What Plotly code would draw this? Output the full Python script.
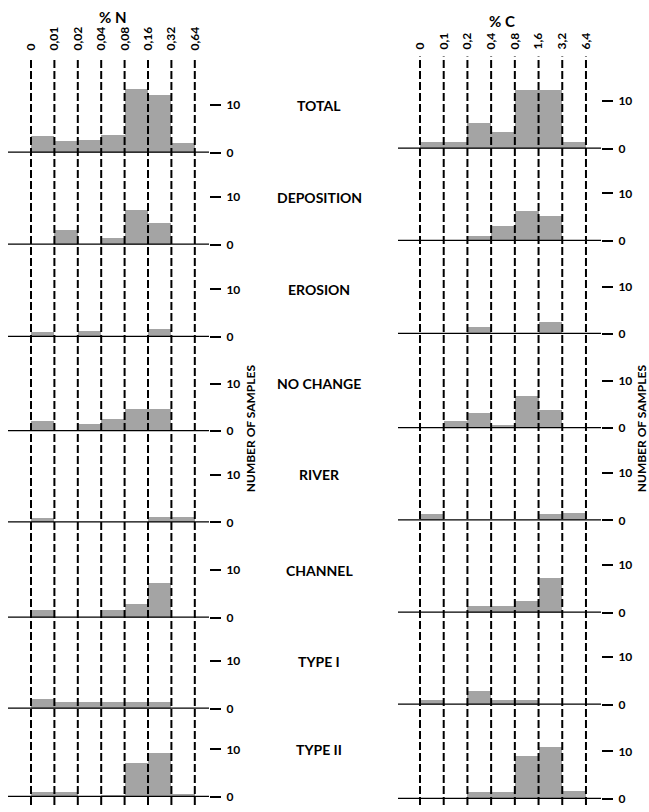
import plotly.graph_objects as go

# ---------------- data ----------------
categories = ["TOTAL", "DEPOSITION", "EROSION", "NO CHANGE", "RIVER", "CHANNEL", "TYPE I", "TYPE II"]

n_edge_labels = ["0", "0,01", "0,02", "0,04", "0,08", "0,16", "0,32", "0,64"]
c_edge_labels = ["0", "0,1", "0,2", "0,4", "0,8", "1,6", "3,2", "6,4"]

# number of samples per class interval (7 intervals between the 8 edges)
n_total      = [3.4, 2.5, 2.7, 3.7, 13.3, 12.1, 2.1]
n_deposition = [0, 3.2, 0, 1.4, 7.4, 4.6, 0]
n_erosion    = [1.1, 0, 1.3, 0, 0, 1.7, 0]
n_nochange   = [2.2, 0, 1.5, 2.6, 4.7, 4.7, 0]
n_river      = [0.9, 0, 0, 0, 0, 1.2, 1.2]
n_channel    = [1.6, 0, 0, 1.6, 2.8, 7.2, 0]
n_type1      = [2.1, 1.5, 1.5, 1.5, 1.5, 1.5, 0]
n_type2      = [1.0, 1.0, 0, 0.5, 7.2, 9.2, 0.7]

c_total      = [1.4, 1.4, 5.4, 3.6, 12.4, 12.4, 1.4]
c_deposition = [0, 0, 1.1, 3.1, 6.2, 5.2, 0]
c_erosion    = [0, 0, 1.4, 0, 0, 2.6, 0]
c_nochange   = [0, 1.5, 3.3, 0.7, 6.7, 3.8, 0]
c_river      = [1.3, 0, 0, 0, 0, 1.4, 1.5]
c_channel    = [0, 0, 1.5, 1.5, 2.5, 7.3, 0]
c_type1      = [1.0, 0, 2.9, 1.0, 1.0, 0, 0]
c_type2      = [0, 0, 1.5, 1.4, 9.0, 11.0, 1.7]

n_series = [n_total, n_deposition, n_erosion, n_nochange, n_river, n_channel, n_type1, n_type2]
c_series = [c_total, c_deposition, c_erosion, c_nochange, c_river, c_channel, c_type1, c_type2]

y_ticks = [0, 10]

# ---------------- layout geometry (pixels) ----------------
W, H = 649, 812
PX_PER_UNIT = 4.8

cols = [
    dict(edge0=31, step=23.4, left=8, right=209, zeros=[154, 247, 340, 435, 527, 623, 715, 804],
         top=58, labels=n_edge_labels, series=n_series, title="% N", tx=113, ty=17, ylab_x=250),
    dict(edge0=420, step=23.71, left=398, right=601, zeros=[150, 243, 337, 432, 525, 618, 711, 806],
         top=57, labels=c_edge_labels, series=c_series, title="% C", tx=502, ty=21, ylab_x=641),
]

FONT = "Lato"
BAR_COLOR = "#a4a4a4"

def fx(px):
    return px / W

def fy(py):
    return 1 - py / H

fig = go.Figure()
layout = dict(
    width=W, height=H, margin=dict(l=0, r=0, t=0, b=0),
    paper_bgcolor="white", plot_bgcolor="rgba(0,0,0,0)",
    showlegend=False, bargap=0,
)
shapes = []
annotations = []

n_edges = len(n_edge_labels)
centers = [i + 0.5 for i in range(n_edges - 1)]

for ci, col in enumerate(cols):
    xr = [(col["left"] - col["edge0"]) / col["step"], (col["right"] - col["edge0"]) / col["step"]]
    for ri in range(len(categories)):
        k = ci * len(categories) + ri + 1
        xa = "x" if k == 1 else f"x{k}"
        ya = "y" if k == 1 else f"y{k}"
        zero = col["zeros"][ri]
        top = col["top"] if ri == 0 else zero - 90
        fig.add_trace(go.Bar(
            x=centers, y=col["series"][ri], width=1.0,
            marker=dict(color=BAR_COLOR, line=dict(width=0)),
            xaxis=xa, yaxis=ya, hoverinfo="skip",
        ))
        xkey = "xaxis" if k == 1 else f"xaxis{k}"
        ykey = "yaxis" if k == 1 else f"yaxis{k}"
        xaxis = dict(domain=[fx(col["left"]), fx(col["right"])], range=xr, anchor=ya,
                     showgrid=False, zeroline=False, showline=False, fixedrange=True)
        if ri == 0:
            xaxis.update(side="top", tickmode="array", tickvals=list(range(n_edges)),
                         ticktext=col["labels"], tickangle=-90, ticks="",
                         ticklabelstandoff=6,
                         tickfont=dict(family=FONT, size=12, color="black", weight="bold"))
        else:
            xaxis.update(showticklabels=False, ticks="")
        layout[xkey] = xaxis
        layout[ykey] = dict(domain=[fy(zero), fy(top)], range=[0, (zero - top) / PX_PER_UNIT],
                            anchor=xa, side="right", showgrid=False, zeroline=False,
                            showline=False, tickmode="array", tickvals=y_ticks,
                            ticktext=[str(v) for v in y_ticks], ticks="outside", ticklen=11,
                            tickwidth=2, tickcolor="black", ticklabelstandoff=3,
                            tickfont=dict(family=FONT, size=12, color="black", weight="bold"),
                            fixedrange=True)
        # baseline
        shapes.append(dict(type="line", xref="paper", yref=ya, x0=fx(col["left"]),
                           x1=fx(col["right"]), y0=0, y1=0,
                           line=dict(color="black", width=2.5), layer="above"))
        if ci == 0:
            annotations.append(dict(text=categories[ri], xref="paper", yref=ya, x=fx(319), y=10,
                                    showarrow=False, xanchor="center", yanchor="middle",
                                    font=dict(family=FONT, size=14, color="black", weight="bold")))
    # dashed class-boundary lines through all panels
    xa0 = "x" if ci == 0 else f"x{ci * len(categories) + 1}"
    for i in range(n_edges):
        shapes.append(dict(type="line", xref=xa0, yref="paper", x0=i, x1=i,
                           y0=0, y1=fy(col["top"]),
                           line=dict(color="black", width=2, dash="8px,3px"), layer="above"))
    annotations.append(dict(text=col["title"], xref="paper", yref="paper", x=fx(col["tx"]),
                            y=fy(col["ty"]), showarrow=False, xanchor="center", yanchor="middle",
                            font=dict(family=FONT, size=15, color="black", weight="bold")))
    annotations.append(dict(text="NUMBER OF SAMPLES", xref="paper", yref="paper",
                            x=fx(col["ylab_x"]), y=fy(432), textangle=-90, showarrow=False,
                            xanchor="center", yanchor="middle",
                            font=dict(family=FONT, size=12, color="black", weight="bold")))

layout["shapes"] = shapes
layout["annotations"] = annotations
fig.update_layout(**layout)
fig.write_html(
    "out.html",
    config={"displayModeBar": False, "staticPlot": True},
    post_script="document.body.style.margin='0';document.body.style.padding='0';"
                "document.body.style.overflow='hidden';",
)
